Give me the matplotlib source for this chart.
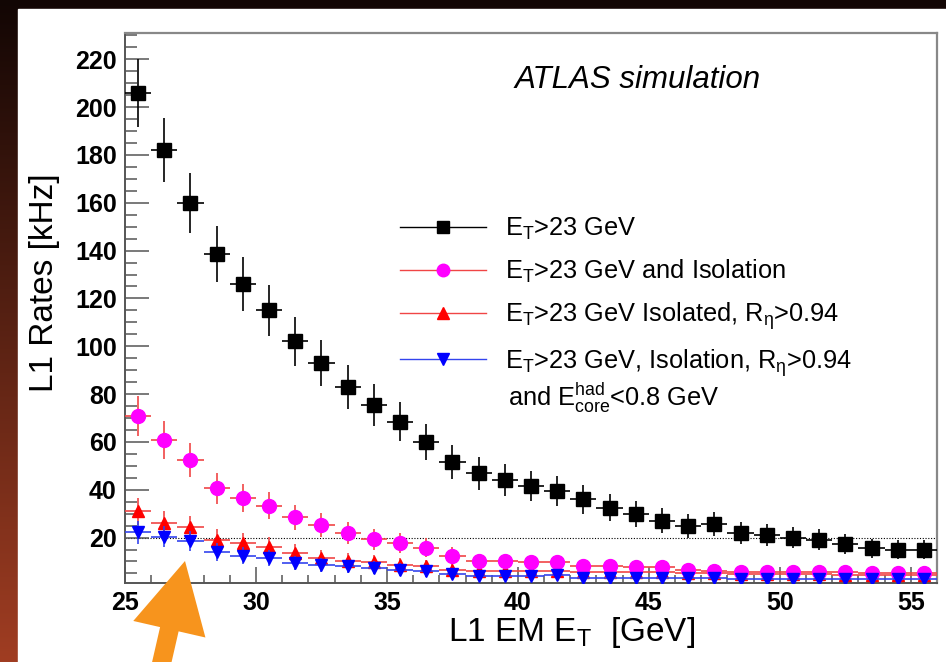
import numpy as np
import matplotlib
matplotlib.use("Agg")
from matplotlib import pyplot as plt
from matplotlib.lines import Line2D
from matplotlib.patches import Rectangle, FancyArrow

plt.rcParams["font.family"] = ["Liberation Sans", "DejaVu Sans"]
plt.rcParams["mathtext.fontset"] = "custom"
plt.rcParams["mathtext.rm"] = "Liberation Sans"
plt.rcParams["mathtext.it"] = "Liberation Sans:italic"

# bin centres of L1 EM E_T [GeV]
et_bins = [25.5, 26.5, 27.5, 28.5, 29.5, 30.5, 31.5, 32.5, 33.5, 34.5, 35.5,
           36.5, 37.5, 38.5, 39.5, 40.5, 41.5, 42.5, 43.5, 44.5, 45.5, 46.5,
           47.5, 48.5, 49.5, 50.5, 51.5, 52.5, 53.5, 54.5, 55.5]

# rates [kHz]
rate_et = [206, 182, 160, 138.6, 126, 115, 102, 93, 83, 75.5, 68.5,
           60, 51.5, 47, 44, 41.5, 39.5, 36, 32.5, 30, 27, 25,
           25.5, 22, 21, 20, 19, 17.5, 15.5, 15, 15]
err_et = [14.3, 13.5, 12.6, 11.8, 11.2, 10.7, 10.1, 9.6, 9.1, 8.7, 8.3,
          7.7, 7.2, 6.9, 6.6, 6.4, 6.3, 6.0, 5.7, 5.5, 5.2, 5.0,
          5.0, 4.7, 4.6, 4.5, 4.4, 4.2, 3.9, 3.9, 3.9]

rate_iso = [71, 60.8, 52.4, 40.6, 36.6, 33.4, 28.5, 25.3, 22, 19.3, 17.7,
            15.7, 12.5, 10, 10, 9.7, 9.6, 8, 8, 7.5, 7.6, 6.5,
            6.2, 5.6, 5.6, 5.6, 5.5, 5.5, 5.0, 5.0, 5.0]
err_iso = [8.4, 7.8, 7.2, 6.4, 6.0, 5.8, 5.3, 5.0, 4.7, 4.4, 4.2,
           4.0, 3.5, 3.2, 3.2, 3.1, 3.1, 2.8, 2.8, 2.7, 2.8, 2.5,
           2.5, 2.4, 2.4, 2.4, 2.4, 2.4, 2.2, 2.2, 2.2]

rate_reta = [31, 26, 24.3, 19, 17.6, 16.2, 13.6, 11.4, 10.4, 9.6, 8.5,
             8.0, 6.6, 6.2, 6.2, 6.0, 6.0, 5.6, 5.6, 5.5, 5.5, 5.2,
             5.0, 4.6, 4.6, 4.6, 4.6, 4.4, 4.2, 4.2, 4.2]
err_reta = [5.6, 5.1, 4.9, 4.4, 4.2, 4.0, 3.7, 3.4, 3.2, 3.1, 2.9,
            2.8, 2.6, 2.5, 2.5, 2.4, 2.4, 2.4, 2.4, 2.3, 2.3, 2.3,
            2.2, 2.1, 2.1, 2.1, 2.1, 2.1, 2.0, 2.0, 2.0]

rate_had = [22.2, 20.4, 18.5, 14.0, 12.5, 11.5, 9.3, 8.6, 8.0, 7.3, 6.6,
            5.9, 4.6, 3.9, 3.9, 3.9, 4.4, 3.0, 3.0, 3.0, 3.0, 3.0,
            3.0, 2.8, 2.8, 2.8, 2.8, 2.8, 2.5, 2.5, 2.5]
err_had = [4.7, 4.5, 4.3, 3.7, 3.5, 3.4, 3.0, 2.9, 2.8, 2.7, 2.6,
           2.4, 2.1, 2.0, 2.0, 2.0, 2.1, 1.7, 1.7, 1.7, 1.7, 1.7,
           1.7, 1.7, 1.7, 1.7, 1.7, 1.7, 1.6, 1.6, 1.6]

labels = [r"$\mathrm{E_T}$>23 GeV",
          r"$\mathrm{E_T}$>23 GeV and Isolation",
          r"$\mathrm{E_T}$>23 GeV Isolated, $\mathrm{R_\eta}$>0.94",
          r"$\mathrm{E_T}$>23 GeV, Isolation, $\mathrm{R_\eta}$>0.94"]
label_cont = r"and $\mathrm{E^{had}_{core}}$<0.8 GeV"

W, H = 946, 662
fig = plt.figure(figsize=(W / 100, H / 100), dpi=100)
fig.patch.set_facecolor("#0b0503")

# background: dark-to-rust gradient, then white slide panel
bg = fig.add_axes([0, 0, 1, 1])
bg.axis("off")
c_top = np.array([0x12, 0x06, 0x04]) / 255
c_bot = np.array([0xa0, 0x3d, 0x22]) / 255
t = np.linspace(0, 1, 256)[:, None]
grad = (c_top * (1 - t) + c_bot * t)[:, None, :]
bg.imshow(grad, aspect="auto", extent=[0, 1, 0, 1])
bg.set_xlim(0, 1)
bg.set_ylim(0, 1)
bg.add_patch(Rectangle((18 / W, 0), 1, (H - 9) / H, color="white", zorder=2))

ax = fig.add_axes([125 / W, (H - 583) / H, (937 - 125) / W, (583 - 33) / H])

ax.axhline(20, color="black", lw=0.8, ls=(0, (1, 1.5)), zorder=1)

series = [
    (rate_et, err_et, "s", "black", "black", 10, 3),
    (rate_reta, err_reta, "^", "#ff0000", "#f04545", 8.5, 4),
    (rate_iso, err_iso, "o", "#ff00ff", "#f04545", 10, 5),
    (rate_had, err_had, "v", "#0000ff", "#3344ee", 8.5, 6),
]
for vals, errs, mk, mc, lc, ms, z in series:
    ax.errorbar(et_bins, vals, yerr=errs, xerr=0.5, fmt=mk, ms=ms,
                mfc=mc, mec=mc, ecolor=lc, elinewidth=1.2, capsize=0,
                zorder=z)

ax.set_xlim(25, 56)
ax.set_ylim(1, 231)
ax.set_xticks([25, 30, 35, 40, 45, 50, 55])
ax.set_xticks(np.arange(25, 57, 1), minor=True)
ax.set_yticks(np.arange(20, 221, 20))
ax.set_yticks(np.arange(5, 231, 5), minor=True)

for s in ["top", "right"]:
    ax.spines[s].set_color("#888888")
    ax.spines[s].set_linewidth(1.6)
for s in ["left", "bottom"]:
    ax.spines[s].set_color("#555555")
    ax.spines[s].set_linewidth(1.4)

ax.tick_params(axis="both", which="both", direction="in", color="#555555",
               width=1.1, labelsize=18)
ax.tick_params(axis="y", which="major", length=17, pad=6)
ax.tick_params(axis="y", which="minor", length=8.5)
ax.tick_params(axis="x", which="major", length=11.5, pad=6)
ax.tick_params(axis="x", which="minor", length=5.5)
for lab in ax.get_xticklabels() + ax.get_yticklabels():
    lab.set_fontweight("bold")

ax.set_ylabel("L1 Rates [kHz]", fontsize=24, va="center")
ax.yaxis.set_label_coords((45 - 125) / 812, (583 - 283) / 550)
ax.set_xlabel(r"L1 EM $\mathrm{E_T}$  [GeV]", fontsize=24)
ax.xaxis.set_label_coords((572 - 125) / 812, (583 - 632) / 550)
ax.xaxis.label.set_va("center")

ax.text((638 - 125) / 812, (583 - 80) / 550, "ATLAS simulation",
        transform=ax.transAxes, fontsize=22.5, style="italic",
        ha="center", va="center")

handles = [
    Line2D([], [], color="black", lw=1, marker="s", ms=9, mfc="black", mec="black"),
    Line2D([], [], color="#f04545", lw=1, marker="o", ms=9, mfc="#ff00ff", mec="#ff00ff"),
    Line2D([], [], color="#f04545", lw=1, marker="^", ms=8, mfc="#ff0000", mec="#ff0000"),
    Line2D([], [], color="#3344ee", lw=1, marker="v", ms=8, mfc="#0000ff", mec="#0000ff"),
]
ax.legend(handles, labels, loc="upper left",
          bbox_to_anchor=((400 - 125) / 812, (583 - 216) / 550),
          frameon=False, fontsize=18.3, handlelength=3.4, handletextpad=0.75,
          labelspacing=0.6, borderpad=0, borderaxespad=0)
# second line of the last legend entry
ax.text((508 - 125) / 812, (583 - 398) / 550, label_cont,
        transform=ax.transAxes, fontsize=18.3, ha="left", va="center")

# orange arrow pointing at the 20 kHz crossing
fig.add_artist(FancyArrow(1.60, -0.08, 0.25, 1.09, width=0.19, head_width=0.74,
                          head_length=0.70, length_includes_head=True,
                          color="#f7941d", lw=0, transform=fig.dpi_scale_trans,
                          zorder=10))

fig.savefig("out.png", dpi=100, facecolor=fig.get_facecolor())
